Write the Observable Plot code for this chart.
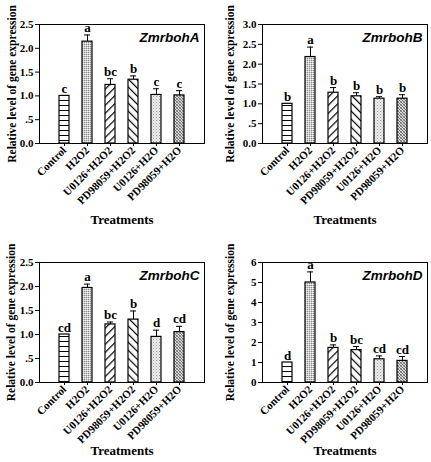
<!DOCTYPE html>
<html>
<head>
<meta charset="utf-8">
<script src="https://cdn.jsdelivr.net/npm/d3@7"></script>
<script src="https://cdn.jsdelivr.net/npm/@observablehq/plot@0.6"></script>
<style>
  html, body { margin: 0; padding: 0; background: white; }
  #wrap { position: relative; width: 431px; height: 462px; overflow: hidden; background: white; }
  .panel { position: absolute; }
</style>
</head>
<body>
<svg width="0" height="0" style="position:absolute">
  <defs>
    <pattern id="p0" width="8" height="5" patternUnits="userSpaceOnUse">
      <rect width="8" height="5" fill="white"/>
      <rect y="0" width="8" height="1" fill="black"/>
    </pattern>
    <pattern id="p1" width="2" height="2" patternUnits="userSpaceOnUse">
      <rect width="2" height="2" fill="#cfcfcf"/>
      <rect x="0" y="0" width="1" height="1" fill="#8a8a8a"/>
      <rect x="1" y="1" width="1" height="1" fill="#f4f4f4"/>
    </pattern>
    <pattern id="p2" width="5.7" height="5.7" patternUnits="userSpaceOnUse" patternTransform="rotate(45)">
      <rect width="5.7" height="5.7" fill="white"/>
      <rect x="0" y="0" width="1.2" height="5.7" fill="black"/>
    </pattern>
    <pattern id="p3" width="5.7" height="5.7" patternUnits="userSpaceOnUse" patternTransform="rotate(-45)">
      <rect width="5.7" height="5.7" fill="white"/>
      <rect x="0" y="0" width="1.2" height="5.7" fill="black"/>
    </pattern>
    <pattern id="p4" width="3" height="3" patternUnits="userSpaceOnUse">
      <rect width="3" height="3" fill="#ececec"/>
      <rect x="0" y="0" width="1" height="1" fill="#9a9a9a"/>
      <rect x="1.5" y="1.5" width="1" height="1" fill="#bdbdbd"/>
    </pattern>
    <pattern id="p5" width="3" height="3" patternUnits="userSpaceOnUse">
      <rect width="3" height="3" fill="#d6d6d6"/>
      <rect x="0" y="0" width="1" height="1" fill="#777"/>
      <rect x="1" y="1" width="1" height="1" fill="#777"/>
      <rect x="2" y="2" width="1" height="1" fill="#777"/>
      <rect x="2" y="0" width="1" height="1" fill="#999"/>
      <rect x="0" y="2" width="1" height="1" fill="#999"/>
    </pattern>
  </defs>
</svg>
<div id="wrap"></div>
<script>
const categories = ["Control", "H2O2", "U0126+H2O2", "PD98059+H2O2", "U0126+H2O", "PD98059+H2O"];
const genes = ["ZmrbohA", "ZmrbohB", "ZmrbohC", "ZmrbohD"];

const meanA = [1.0, 2.14, 1.23, 1.34, 1.02, 1.01];
const seA   = [0, 0.14, 0.13, 0.08, 0.13, 0.10];
const letA  = ["c", "a", "bc", "b", "c", "c"];

const meanB = [1.0, 2.18, 1.28, 1.19, 1.13, 1.13];
const seB   = [0, 0.25, 0.13, 0.09, 0.05, 0.10];
const letB  = ["b", "a", "b", "b", "b", "b"];

const meanC = [1.0, 1.97, 1.21, 1.31, 0.95, 1.05];
const seC   = [0, 0.08, 0.05, 0.18, 0.14, 0.12];
const letC  = ["cd", "a", "bc", "b", "d", "cd"];

const meanD = [1.0, 5.0, 1.73, 1.62, 1.16, 1.08];
const seD   = [0, 0.53, 0.15, 0.18, 0.17, 0.22];
const letD  = ["d", "a", "b", "bc", "cd", "cd"];

const ticksHalf = [0, 0.5, 1.0, 1.5, 2.0, 2.5, 3.0];
const ticksInt = [0, 1, 2, 3, 4, 5, 6];
const yLabel = "Relative level of gene expression";
const xLabel = "Treatments";
const patterns = ["url(#p0)", "url(#p1)", "url(#p2)", "url(#p3)", "url(#p4)", "url(#p5)"];

const fmtHalf = v => v === 0 ? "0.0" : (v === 0.5 ? ".5" : v.toFixed(1));
const fmtInt = v => String(v);

const panels = [
  {gene: genes[0], mean: meanA, se: seA, lett: letA, ymax: 2.5, ticks: ticksHalf.filter(t => t <= 2.5), fmt: fmtHalf,
   left: 0, top: 0, width: 215, mL: 39, mR: 11, mT: 24, mB: 88, labDx: -27, tDy: 80},
  {gene: genes[1], mean: meanB, se: seB, lett: letB, ymax: 3.0, ticks: ticksHalf, fmt: fmtHalf,
   left: 215, top: 0, width: 216, mL: 47, mR: 4, mT: 24, mB: 88, labDx: -32, tDy: 80},
  {gene: genes[2], mean: meanC, se: seC, lett: letC, ymax: 2.5, ticks: ticksHalf.filter(t => t <= 2.5), fmt: fmtHalf,
   left: 0, top: 231, width: 215, mL: 39, mR: 11, mT: 31, mB: 80, labDx: -28, tDy: 72},
  {gene: genes[3], mean: meanD, se: seD, lett: letD, ymax: 6, ticks: ticksInt, fmt: fmtInt,
   left: 215, top: 231, width: 216, mL: 47, mR: 4, mT: 31, mB: 80, labDx: -32, tDy: 72}
];

const wrap = document.getElementById("wrap");
for (const p of panels) {
  const data = categories.map((c, i) => ({cat: c, mean: p.mean[i], top: p.mean[i] + p.se[i], se: p.se[i], lett: p.lett[i], fill: patterns[i]}));
  const withErr = data.filter(d => d.se > 0);
  const chart = Plot.plot({
    width: p.width,
    height: 231,
    marginLeft: p.mL,
    marginRight: p.mR,
    marginTop: p.mT,
    marginBottom: p.mB,
    style: {fontFamily: "Liberation Serif", fontWeight: "bold", fontSize: "11px", color: "black", background: "white"},
    x: {domain: categories, paddingInner: 0.58, paddingOuter: 0.79, tickRotate: -45, tickSize: 3, tickPadding: 2, label: null},
    y: {domain: [0, p.ymax], ticks: p.ticks, tickFormat: p.fmt, tickSize: 4, tickPadding: 2, label: null},
    color: {type: "identity"},
    marks: [
      Plot.ruleX(withErr, {x: "cat", y1: "mean", y2: "top", stroke: "black", strokeWidth: 1}),
      Plot.tickY(withErr, {x: "cat", y: "top", stroke: "black", strokeWidth: 1, insetLeft: 2, insetRight: 2}),
      Plot.barY(data, {x: "cat", y: "mean", fill: "fill", stroke: "black", strokeWidth: 1.2}),
      Plot.text(data, {x: "cat", y: "top", text: "lett", lineAnchor: "bottom", dy: -3, fontSize: 13, fontWeight: "bold", fontFamily: "Liberation Serif", fill: "black"}),
      Plot.text([p.gene], {frameAnchor: "top-right", dx: -5, dy: 8, lineAnchor: "top", textAnchor: "end", fontFamily: "Liberation Sans", fontWeight: "bold", fontStyle: "italic", fontSize: 13.5, fill: "black"}),
      Plot.text([yLabel], {frameAnchor: "left", dx: p.labDx, rotate: -90, textAnchor: "middle", fontSize: 11.5, fontWeight: "bold", fontFamily: "Liberation Serif", fill: "black"}),
      Plot.text([xLabel], {frameAnchor: "bottom", dy: p.tDy, textAnchor: "middle", fontSize: 13, fontWeight: "bold", fontFamily: "Liberation Serif", fill: "black"}),
      Plot.frame({stroke: "black", strokeWidth: 1})
    ]
  });
  const div = document.createElement("div");
  div.className = "panel";
  div.style.left = p.left + "px";
  div.style.top = p.top + "px";
  div.appendChild(chart);
  wrap.appendChild(div);
}
</script>
</body>
</html>
